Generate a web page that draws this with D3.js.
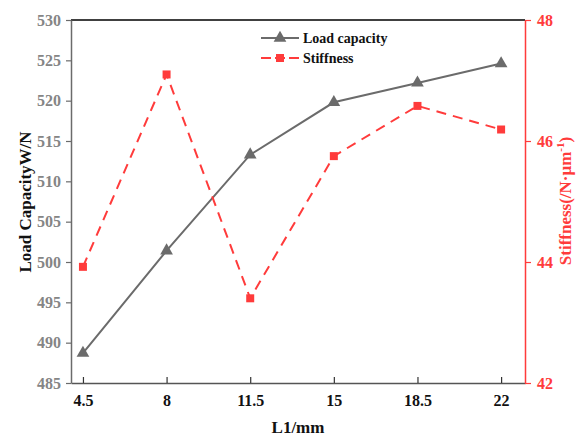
<!DOCTYPE html>
<html><head><meta charset="utf-8">
<script src="https://cdn.jsdelivr.net/npm/d3@7"></script>
<style>body{margin:0;background:#fff}svg{display:block}</style>
</head><body>
<script>
const xValues = [4.5, 8, 11.5, 15, 18.5, 22];
const xTickLabels = ["4.5", "8", "11.5", "15", "18.5", "22"];
const loadCapacity = [488.7, 501.4, 513.3, 519.8, 522.2, 524.6];
const stiffness = [43.92, 47.1, 43.4, 45.75, 46.58, 46.19];
const leftTicks = [485, 490, 495, 500, 505, 510, 515, 520, 525, 530];
const rightTicks = [42, 44, 46, 48];
const seriesNames = ["Load capacity", "Stiffness"];

const W = 576, H = 443;
const m = {left: 71, right: 51, top: 20, bottom: 60};
const font = "'Liberation Serif', 'DejaVu Serif', serif";
const grey = "#6b6b6b", red = "#ff3b3b";

const svg = d3.select("body").append("svg").attr("width", W).attr("height", H);
const x = d3.scaleLinear().domain([4, 23]).range([m.left, W - m.right]);
const yL = d3.scaleLinear().domain([485, 530]).range([H - m.bottom, m.top]);
const yR = d3.scaleLinear().domain([42, 48]).range([H - m.bottom, m.top]);

// top border
svg.append("line").attr("x1", m.left).attr("x2", W - m.right).attr("y1", m.top).attr("y2", m.top)
  .attr("stroke", "#000").attr("stroke-width", 1.5);

// bottom axis
const gx = svg.append("g").attr("transform", `translate(0,${H - m.bottom})`)
  .call(d3.axisBottom(x).tickValues(xValues).tickFormat((d, i) => xTickLabels[i]).tickSizeInner(-6).tickSizeOuter(0).tickPadding(12));
gx.select(".domain").attr("stroke", "#555").attr("stroke-width", 1.5);
gx.selectAll(".tick line").attr("stroke", "#333").attr("stroke-width", 1.2);
gx.selectAll("text").attr("font-family", font).attr("font-weight", "bold").attr("font-size", 16).attr("fill", "#111");

// left axis
const gl = svg.append("g").attr("transform", `translate(${m.left},0)`)
  .call(d3.axisLeft(yL).tickValues(leftTicks).tickFormat(d3.format("d")).tickSizeInner(5).tickSizeOuter(0).tickPadding(5));
gl.select(".domain").attr("stroke", grey).attr("stroke-width", 1.5);
gl.selectAll(".tick line").attr("stroke", grey).attr("stroke-width", 1.2);
gl.selectAll("text").attr("font-family", font).attr("font-weight", "bold").attr("font-size", 16).attr("fill", "#858585");

// right axis
const gr = svg.append("g").attr("transform", `translate(${W - m.right},0)`)
  .call(d3.axisRight(yR).tickValues(rightTicks).tickFormat(d3.format("d")).tickSizeInner(6).tickSizeOuter(0).tickPadding(6));
gr.select(".domain").attr("stroke", red).attr("stroke-width", 1.5);
gr.selectAll(".tick line").attr("stroke", red).attr("stroke-width", 1.2);
gr.selectAll("text").attr("font-family", font).attr("font-weight", "bold").attr("font-size", 16).attr("fill", red);

// axis titles
svg.append("text").attr("transform", `translate(31,202) rotate(-90)`)
  .attr("text-anchor", "middle").attr("font-family", font).attr("font-weight", "bold").attr("font-size", 17)
  .attr("fill", "#111").text("Load CapacityW/N");
const rt = svg.append("text").attr("transform", `translate(571,201) rotate(-90)`)
  .attr("text-anchor", "middle").attr("font-family", font).attr("font-weight", "bold").attr("font-size", 17)
  .attr("fill", red);
rt.append("tspan").text("Stiffness(/N·μm");
rt.append("tspan").attr("dy", -7).attr("font-size", 11).text("-1");
rt.append("tspan").attr("dy", 7).text(")");
svg.append("text").attr("x", (m.left + W - m.right) / 2).attr("y", 433)
  .attr("text-anchor", "middle").attr("font-family", font).attr("font-weight", "bold").attr("font-size", 17)
  .attr("fill", "#111").text("L1/mm");

const tri = d3.symbol().type(d3.symbolTriangle).size(70);
const sq = d3.symbol().type(d3.symbolSquare).size(64);

// load capacity series
svg.append("path").datum(loadCapacity)
  .attr("d", d3.line().x((d, i) => x(xValues[i])).y(d => yL(d)))
  .attr("fill", "none").attr("stroke", grey).attr("stroke-width", 2);
svg.selectAll(".tri").data(loadCapacity).enter().append("path")
  .attr("d", tri).attr("transform", (d, i) => `translate(${x(xValues[i])},${yL(d)})`).attr("fill", grey);

// stiffness series
svg.append("path").datum(stiffness)
  .attr("d", d3.line().x((d, i) => x(xValues[i])).y(d => yR(d)))
  .attr("fill", "none").attr("stroke", red).attr("stroke-width", 2).attr("stroke-dasharray", "10,7");
svg.selectAll(".sq").data(stiffness).enter().append("path")
  .attr("d", sq).attr("transform", (d, i) => `translate(${x(xValues[i])},${yR(d)})`).attr("fill", red);

// legend
const lg = svg.append("g");
[0, 1].forEach(i => {
  const yy = 38 + i * 20;
  lg.append("line").attr("x1", 261).attr("x2", 299).attr("y1", yy).attr("y2", yy)
    .attr("stroke", i === 0 ? grey : red).attr("stroke-width", 2)
    .attr("stroke-dasharray", i === 0 ? null : "10,4");
  lg.append("path").attr("d", i === 0 ? tri : sq).attr("transform", `translate(280,${yy})`)
    .attr("fill", i === 0 ? grey : red);
  lg.append("text").attr("x", 303).attr("y", yy + 5).attr("font-family", font).attr("font-weight", "bold")
    .attr("font-size", 14).attr("fill", "#111").text(seriesNames[i]);
});
</script>
</body></html>
